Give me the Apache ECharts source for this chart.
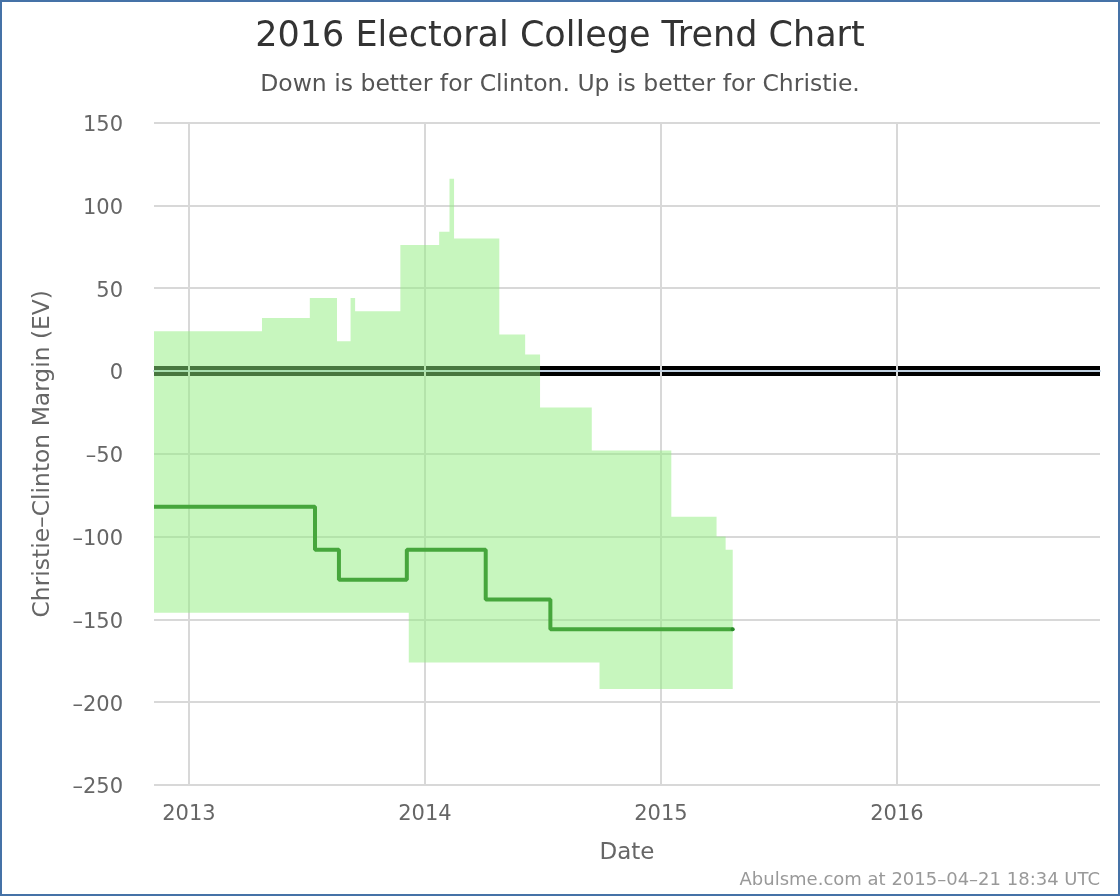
<!DOCTYPE html>
<html>
<head>
<meta charset="utf-8">
<title>2016 Electoral College Trend Chart</title>
<script src="https://cdn.jsdelivr.net/npm/echarts@6/dist/echarts.min.js"></script>
<style>
	html, body { margin: 0; padding: 0; background: #fff; }
	#charts { width: 1120px; height: 896px; box-sizing: border-box; border: 2px solid #4572a7; }
</style>
</head>
<body>
<div id="charts"></div>
<script>
	// 区间上下边界 (band edges)
	var bandDates = [
		'2012-11-08', '2013-04-24', '2013-07-07', '2013-08-18', '2013-09-08', '2013-09-15',
		'2013-11-24', '2013-12-07', '2014-01-23', '2014-02-08', '2014-02-15', '2014-04-26',
		'2014-06-05', '2014-06-28', '2014-09-16', '2014-09-28', '2015-01-17', '2015-03-28',
		'2015-04-11', '2015-04-22'
	];
	var bandUpper = [24, 32, 44, 18, 44, 36, 76, 76, 84, 116, 80, 22, 10, -22, -48, -48, -88, -100, -108, -108];
	var bandLower = [-146, -146, -146, -146, -146, -146, -146, -176, -176, -176, -176, -176, -176, -176, -176, -192, -192, -192, -192, -192];

	// 中位线
	var medianDates = ['2012-11-08', '2013-07-15', '2013-08-21', '2013-12-04', '2014-04-05', '2014-07-14', '2015-04-22'];
	var medianValues = [-82, -108, -126, -108, -138, -156, -156];

	var yearTicks = ['2013-01-01', '2014-01-01', '2015-01-01', '2016-01-01'];
	var zeroDates = ['2012-11-08', '2016-11-10'];
	var zeroValues = [0, 0];

	var fontName = '"DejaVu Sans", sans-serif';

	function zip(dates, values) {
		var out = [];
		for (var i = 0; i < dates.length; i++) {
			out.push([Date.parse(dates[i]), values[i]]);
		}
		return out;
	}

	// 整个区间画成一个多边形
	function renderBand(params, api) {
		if (params.dataIndex !== 0) {
			return;
		}
		var top = [], bottom = [];
		for (var i = 0; i < bandDates.length; i++) {
			var x = Date.parse(bandDates[i]);
			var nextX = Date.parse(bandDates[Math.min(i + 1, bandDates.length - 1)]);
			top.push(api.coord([x, bandUpper[i]]), api.coord([nextX, bandUpper[i]]));
			bottom.push(api.coord([x, bandLower[i]]), api.coord([nextX, bandLower[i]]));
		}
		return {
			type: 'polygon',
			shape: { points: top.concat(bottom.reverse()) },
			style: { fill: '#90ee7e', opacity: 0.5 }
		};
	}

	// 最后一个点画一个深色小点
	var medianData = zip(medianDates, medianValues);
	medianData[medianData.length - 1] = {
		value: medianData[medianData.length - 1],
		symbol: 'circle',
		symbolSize: 4,
		itemStyle: { color: '#2a8a2a' }
	};

	var yearTickValues = yearTicks.map(function (d) { return Date.parse(d); });

	var myChart = echarts.init(document.getElementById('charts'));
	var option = {
		animation: false,
		backgroundColor: '#fff',
		textStyle: { fontFamily: fontName },
		title: [
			{
				text: '2016 Electoral College Trend Chart',
				left: 553, top: 12, textAlign: 'center',
				textStyle: { fontFamily: fontName, fontSize: 35, fontWeight: 'normal', color: '#333333' }
			},
			{
				text: 'Down is better for Clinton. Up is better for Christie.',
				left: 553, top: 66, textAlign: 'center',
				textStyle: { fontFamily: fontName, fontSize: 23.5, fontWeight: 'normal', color: '#555555' }
			},
			{
				text: 'Abulsme.com at 2015–04–21 18:34 UTC',
				left: 1093, top: 864, textAlign: 'right',
				textStyle: { fontFamily: fontName, fontSize: 18, fontWeight: 'normal', color: '#999999' }
			}
		],
		grid: { left: 152, right: 18, top: 120.5, bottom: 109 },
		xAxis: {
			type: 'value',
			min: Date.parse(zeroDates[0]),
			max: Date.parse(zeroDates[1]),
			name: 'Date',
			nameLocation: 'middle',
			nameGap: 57,
			nameTextStyle: { fontFamily: fontName, fontSize: 23, color: '#666666' },
			axisLine: { lineStyle: { color: '#c0d0e0', width: 2 } },
			axisTick: { show: false, customValues: yearTickValues },
			axisLabel: {
				customValues: yearTickValues,
				margin: 19,
				fontFamily: fontName,
				fontSize: 21,
				color: '#666666',
				formatter: function (value) {
					return String(new Date(value).getUTCFullYear());
				}
			},
			splitLine: { show: true, lineStyle: { color: '#d8d8d8', width: 2 } }
		},
		yAxis: {
			type: 'value',
			min: -250,
			max: 150,
			interval: 50,
			name: 'Christie–Clinton Margin (EV)',
			nameLocation: 'middle',
			nameRotate: 90,
			nameGap: 100,
			nameTextStyle: { fontFamily: fontName, fontSize: 23.4, color: '#666666' },
			axisLine: { show: false },
			axisTick: { show: false },
			axisLabel: {
				margin: 31,
				// 标签比网格线略低
				verticalAlign: 'top',
				lineHeight: 6,
				fontFamily: fontName,
				fontSize: 21,
				color: '#666666',
				formatter: function (value) {
					return String(value).replace('-', '–');
				}
			},
			splitLine: { show: true, lineStyle: { color: '#d8d8d8', width: 2 } }
		},
		series: [
			{
				// 零线, 在网格线下面
				type: 'line',
				z: -1,
				silent: true,
				symbol: 'none',
				lineStyle: { color: '#000000', width: 10 },
				data: zip(zeroDates, zeroValues)
			},
			{
				type: 'custom',
				silent: true,
				renderItem: renderBand,
				encode: { x: 0, y: 1 },
				data: zip(bandDates, bandUpper)
			},
			{
				type: 'line',
				step: 'end',
				silent: true,
				symbol: 'none',
				showSymbol: true,
				z: 4,
				lineStyle: { color: '#46a63c', width: 4 },
				data: medianData
			}
		]
	};
	myChart.setOption(option);
</script>
</body>
</html>
